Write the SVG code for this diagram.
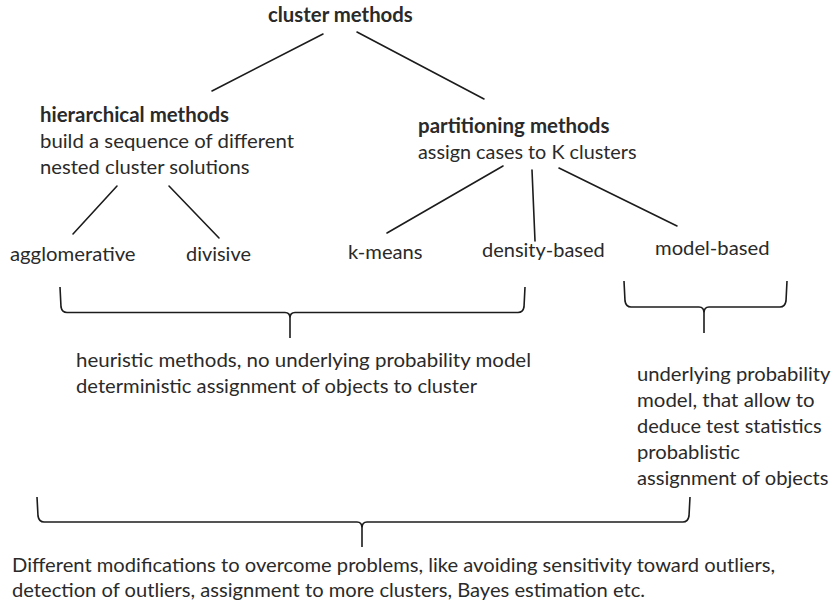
<svg xmlns="http://www.w3.org/2000/svg" width="835" height="604" viewBox="0 0 835 604">
<style>
text{font-family:Lato,"Open Sans","Liberation Sans",sans-serif;font-size:20px;fill:#2a2a2a;}
.b{font-weight:bold;}
.ln{stroke:#1c1c1c;stroke-width:1.6;fill:none;stroke-linecap:round;}
.br{stroke:#1c1c1c;stroke-width:1.6;fill:none;stroke-linejoin:round;}
</style>
<rect width="835" height="604" fill="#ffffff"/>
<g id="connectors">
<line class="ln" x1="323" y1="34" x2="212" y2="91"/>
<line class="ln" x1="357" y1="32" x2="484" y2="99"/>
<line class="ln" x1="117" y1="186" x2="73" y2="234"/>
<line class="ln" x1="169" y1="186" x2="219" y2="238"/>
<line class="ln" x1="503" y1="166" x2="387" y2="233"/>
<line class="ln" x1="532" y1="170" x2="535" y2="241"/>
<line class="ln" x1="559" y1="168" x2="677" y2="226"/>
</g>
<g id="braces">
<path class="br" d="M60,287 L61,307 Q62,312.5 67,312.5 L285,312.5 Q290,312.5 290,318 Q290,312.5 295,312.5 L518,312.5 Q523,312.5 524,307 L525,287 M290,316 L290,338"/>
<path class="br" d="M624,281 L625,301 Q626,307 631,307 L699,307 Q704,307 704,313 Q704,307 709,307 L780,307 Q785,307 786,301 L787,281 M704,311 L704,333"/>
<path class="br" d="M37,497 L38,516 Q39,522 44,522 L357,522 Q362,522 362,528 Q362,522 367,522 L683,522 Q688,522 689,516 L690,497 M362,526 L362,547"/>
</g>
<g id="cluster-methods"><text class="b" x="268" y="22" textLength="144.8" lengthAdjust="spacingAndGlyphs">cluster methods</text></g>
<g id="hierarchical-methods">
<text class="b" x="40" y="122" textLength="189" lengthAdjust="spacingAndGlyphs">hierarchical methods</text>
<text x="40" y="148" textLength="254" lengthAdjust="spacingAndGlyphs">build a sequence of different</text>
<text x="40" y="174" textLength="209.5" lengthAdjust="spacingAndGlyphs">nested cluster solutions</text>
</g>
<g id="partitioning-methods">
<text class="b" x="418" y="133" textLength="191.5" lengthAdjust="spacingAndGlyphs">partitioning methods</text>
<text x="418" y="159" textLength="218.5" lengthAdjust="spacingAndGlyphs">assign cases to K clusters</text>
</g>
<g id="agglomerative"><text x="10" y="261" textLength="125.6" lengthAdjust="spacingAndGlyphs">agglomerative</text></g>
<g id="divisive"><text x="186" y="261" textLength="64.9" lengthAdjust="spacingAndGlyphs">divisive</text></g>
<g id="k-means"><text x="348" y="259" textLength="74.6" lengthAdjust="spacingAndGlyphs">k-means</text></g>
<g id="density-based"><text x="482" y="257" textLength="122.7" lengthAdjust="spacingAndGlyphs">density-based</text></g>
<g id="model-based"><text x="655" y="255" textLength="114.5" lengthAdjust="spacingAndGlyphs">model-based</text></g>
<g id="heuristic-note">
<text x="76" y="367" textLength="455" lengthAdjust="spacingAndGlyphs">heuristic methods, no underlying probability model</text>
<text x="76" y="393" textLength="401" lengthAdjust="spacingAndGlyphs">deterministic assignment of objects to cluster</text>
</g>
<g id="probability-note">
<text x="637" y="381" textLength="193.5" lengthAdjust="spacingAndGlyphs">underlying probability</text>
<text x="637" y="407" textLength="177.6" lengthAdjust="spacingAndGlyphs">model, that allow to</text>
<text x="637" y="433" textLength="184.7" lengthAdjust="spacingAndGlyphs">deduce test statistics</text>
<text x="637" y="459" textLength="102.9" lengthAdjust="spacingAndGlyphs">probablistic</text>
<text x="637" y="485" textLength="191.5" lengthAdjust="spacingAndGlyphs">assignment of objects</text>
</g>
<g id="modifications-note">
<text x="12" y="572" textLength="763" lengthAdjust="spacingAndGlyphs">Different modifications to overcome problems, like avoiding sensitivity toward outliers,</text>
<text x="12" y="597" textLength="633" lengthAdjust="spacingAndGlyphs">detection of outliers, assignment to more clusters, Bayes estimation etc.</text>
</g>
</svg>
